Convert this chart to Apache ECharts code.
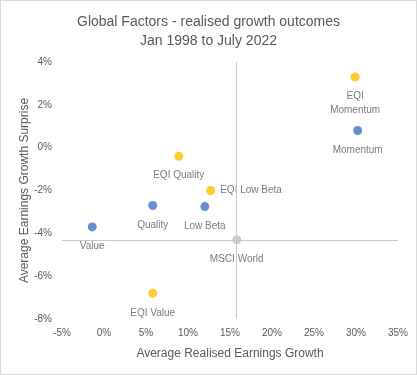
<!DOCTYPE html>
<html>
<head>
<meta charset="utf-8">
<script src="https://cdn.jsdelivr.net/npm/echarts@6/dist/echarts.min.js"></script>
<style>
  html, body { margin: 0; padding: 0; background: #fff; }
  #chart { width: 415px; height: 373px; border: 1px solid #d9d9d9; }
</style>
</head>
<body>
<div id="chart"></div>
<script>
// factor results, growth in %, surprise in %
const factorNames = ['Value', 'Quality', 'Low Beta', 'Momentum'];
const factorGrowth = [-1.4, 5.8, 12.0, 30.2];
const factorSurprise = [-3.7, -2.7, -2.75, 0.8];

const eqiNames = ['EQI Value', 'EQI Quality', 'EQI Low Beta', 'EQI Momentum'];
const eqiGrowth = [5.8, 8.9, 12.7, 29.9];
const eqiSurprise = [-6.8, -0.4, -2.0, 3.3];

const worldNames = ['MSCI World'];
const worldGrowth = [15.8];
const worldSurprise = [-4.3];

const textColor = '#595959';
const fontFamily = '"Liberation Sans", Arial, sans-serif';

function points(names, xs, ys) {
  return names.map((n, i) => ({ name: n, value: [xs[i], ys[i]] }));
}

function pointLabel(params) {
  if (params.name === 'EQI Momentum') return 'EQI\nMomentum';
  return params.name;
}

const baseLabel = {
  show: true,
  position: 'bottom',
  distance: 8,
  color: textColor,
  fontSize: 10,
  fontFamily: fontFamily,
  lineHeight: 14,
  formatter: pointLabel
};

const eqiData = points(eqiNames, eqiGrowth, eqiSurprise);
eqiData.forEach(d => {
  if (d.name === 'EQI Low Beta') {
    d.label = { position: 'right', distance: 5 };
  }
});

const chart = echarts.init(document.getElementById('chart'));
chart.setOption({
  animation: false,
  title: {
    text: 'Global Factors - realised growth outcomes\nJan 1998 to July 2022',
    left: 'center',
    top: 7,
    textStyle: {
      color: textColor,
      fontSize: 14,
      fontWeight: 'normal',
      fontFamily: fontFamily,
      lineHeight: 19
    }
  },
  grid: { left: 61, right: 18, top: 61, bottom: 55 },
  xAxis: {
    type: 'value',
    min: -5,
    max: 35,
    interval: 5,
    name: 'Average Realised Earnings Growth',
    nameLocation: 'middle',
    nameGap: 29,
    nameTextStyle: { color: textColor, fontSize: 12, fontFamily: fontFamily },
    axisLine: { show: false },
    axisTick: { show: false },
    splitLine: { show: false },
    axisLabel: {
      color: textColor, fontSize: 10, fontFamily: fontFamily, margin: 9,
      formatter: v => v + '%'
    }
  },
  yAxis: {
    type: 'value',
    min: -8,
    max: 4,
    interval: 2,
    name: 'Average Earnings Growth Surprise',
    nameLocation: 'middle',
    nameGap: 31,
    nameMoveOverlap: false,
    nameTextStyle: { color: textColor, fontSize: 12, fontFamily: fontFamily },
    axisLine: { show: false },
    axisTick: { show: false },
    splitLine: { show: false },
    axisLabel: {
      color: textColor, fontSize: 10, fontFamily: fontFamily, margin: 10,
      formatter: v => v + '%'
    }
  },
  series: [
    {
      type: 'scatter',
      name: 'MSCI World',
      symbolSize: 9,
      itemStyle: { color: '#bfbfbf' },
      label: baseLabel,
      data: points(worldNames, worldGrowth, worldSurprise),
      z: 3,
      markLine: {
        silent: true,
        symbol: 'none',
        label: { show: false },
        lineStyle: { color: '#c8c8c8', width: 1, type: 'solid' },
        data: [{ xAxis: worldGrowth[0] }, { yAxis: worldSurprise[0] }]
      }
    },
    {
      type: 'scatter',
      name: 'Factors',
      symbolSize: 9,
      itemStyle: { color: '#4472c4' },
      label: baseLabel,
      data: points(factorNames, factorGrowth, factorSurprise),
      z: 4
    },
    {
      type: 'scatter',
      name: 'EQI',
      symbolSize: 9,
      itemStyle: { color: '#ffc000' },
      label: baseLabel,
      data: eqiData,
      z: 4
    }
  ]
});
</script>
</body>
</html>
